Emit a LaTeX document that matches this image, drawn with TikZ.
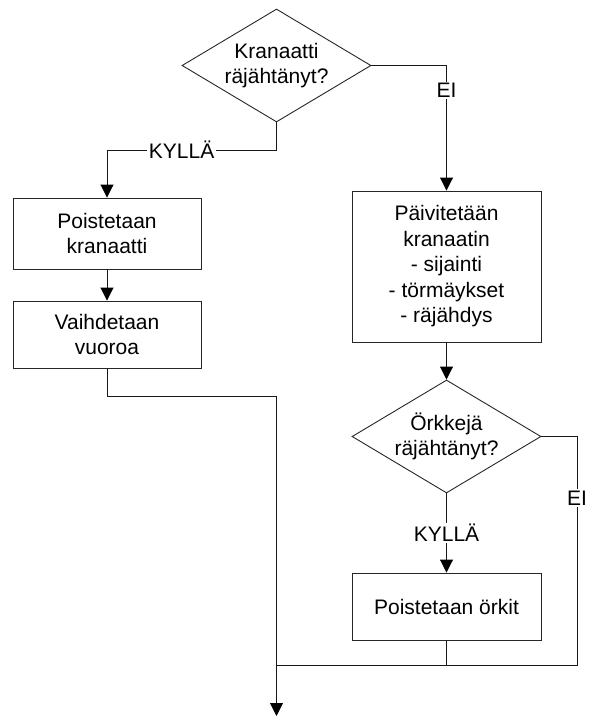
\documentclass[tikz,border=0pt]{standalone}
\usepackage{fontspec}
\setmainfont{Liberation Sans}
\usetikzlibrary{shapes.geometric,arrows.meta}
\tikzset{
  txt/.style={font=\fontsize{21pt}{25.5pt}\selectfont, align=center},
  box/.style={rectangle, draw=black!85, line width=0.9pt, inner sep=0pt, txt},
  dia/.style={diamond, draw=black!85, line width=0.9pt, inner sep=0pt, minimum width=189pt, minimum height=113pt},
  line/.style={draw=black!90, line width=0.9pt},
  arr/.style={line, -{Triangle[width=13pt,length=13pt,color=black,fill=black]}},
  lbl/.style={txt, fill=white, inner sep=1.5pt}
}
\begin{document}
\begin{tikzpicture}[x=1pt,y=-1pt]
\useasboundingbox (0,0) rectangle (589,717);
% nodes
\node[dia, label={[txt]center:Kranaatti\\räjähtänyt?}] (d1) at (276.5,65.5) {};
\node[box, minimum width=188pt, minimum height=71pt] (b1) at (107,233.5) {Poistetaan\\kranaatti};
\node[box, minimum width=188pt, minimum height=67pt] (b2) at (107,334.5) {Vaihdetaan\\vuoroa};
\node[box, minimum width=189pt, minimum height=151pt] (b3) at (446.5,266.5) {Päivitetään\\kranaatin\\- sijainti\\- törmäykset\\- räjähdys};
\node[dia, label={[txt]center:Örkkejä\\räjähtänyt?}] (d2) at (446.5,436.5) {};
\node[box, minimum width=189pt, minimum height=67pt] (b4) at (446.5,606.5) {Poistetaan örkit};
\coordinate (k1) at (276.5,150);
\coordinate (e2) at (577,665);
\coordinate (m) at (276.5,665);
\coordinate (end) at (276.5,716);
% connectors
\draw[arr] (d1.south) -- (k1) -| node[lbl, pos=0.28]{KYLLÄ} (b1.north);
\draw[arr] (d1.east) -| node[lbl, pos=0.6]{EI} (b3.north);
\draw[arr] (b1.south) -- (b2.north);
\draw[arr] (b2.south) -- ++(0,28) -| (end);
\draw[arr] (b3.south) -- (d2.north);
\draw[arr] (d2.south) -- node[lbl]{KYLLÄ} (b4.north);
\draw[line] (d2.east) -| node[lbl, pos=0.635]{EI} (e2) -- (m);
\draw[line] (b4.south) |- (m);
\end{tikzpicture}
\end{document}
